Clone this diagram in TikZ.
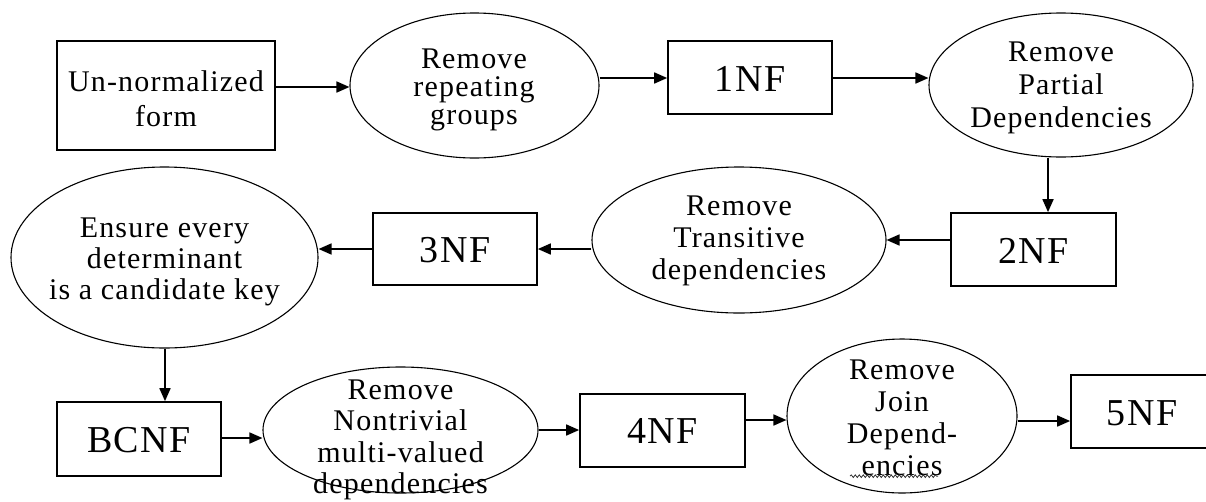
\documentclass[tikz,border=0pt]{standalone}
\usepackage{fontspec}
\setmainfont{Liberation Serif}[LetterSpace=4]
\usetikzlibrary{shapes.geometric,arrows.meta,decorations.pathmorphing}
\tikzset{
  nfbox/.style={draw, line width=1.7pt, inner sep=0pt},
  oval/.style={draw, ellipse, line width=1.1pt, inner sep=0pt},
  lbl/.style={align=center, font=\fontsize{30}{32}\selectfont, inner sep=0pt},
  nflbl/.style={font=\fontsize{38}{40}\selectfont, inner sep=0pt},
  flow/.style={line width=1.7pt, -{Triangle[length=13pt,width=11pt]}},
}
\begin{document}
\begin{tikzpicture}[x=1pt,y=-1pt]
\useasboundingbox (0,0) rectangle (1206,501);
\clip (0,0) rectangle (1206,501);
\fill[white] (0,0) rectangle (1206,501);

% shapes
\node[nfbox, minimum width=218pt, minimum height=109pt] (unf) at (166,95.5) {};
\node[oval, minimum width=249pt, minimum height=145pt] (e1) at (474.5,85.5) {};
\node[nfbox, minimum width=164pt, minimum height=73pt] (nf1) at (750,77.5) {};
\node[oval, minimum width=264pt, minimum height=144pt] (e2) at (1061,85) {};
\node[nfbox, minimum width=165pt, minimum height=73pt] (nf2) at (1033.5,249.5) {};
\node[oval, minimum width=294pt, minimum height=146pt] (e3) at (739,240) {};
\node[nfbox, minimum width=164pt, minimum height=72pt] (nf3) at (455,249) {};
\node[oval, minimum width=307pt, minimum height=181pt] (e4) at (164.5,257.5) {};
\node[nfbox, minimum width=164pt, minimum height=74pt] (bcnf) at (139,439) {};
\node[oval, minimum width=275pt, minimum height=126pt] (e5) at (400.5,430) {};
\node[nfbox, minimum width=165pt, minimum height=73pt] (nf4) at (662.5,430.5) {};
\node[oval, minimum width=230pt, minimum height=154pt] (e6) at (902,416) {};
\node[nfbox, minimum width=142pt, minimum height=73pt] (nf5) at (1142,411.5) {};

% texts
\node[lbl, font=\fontsize{30}{35}\selectfont] (tunf) at (166,99) {Un-normalized\\form};
\node[lbl, font=\fontsize{30}{28}\selectfont] (te1) at (474,90) {Remove\\repeating\\groups};
\node[nflbl] (tnf1) at (750,79) {1NF};
\node[lbl, font=\fontsize{30}{33}\selectfont] (te2) at (1061,88) {Remove\\Partial\\Dependencies};
\node[nflbl] (tnf2) at (1033.5,251) {2NF};
\node[lbl] (te3) at (739,241) {Remove\\Transitive\\dependencies};
\node[nflbl] (tnf3) at (455,250) {3NF};
\node[lbl, font=\fontsize{30}{31}\selectfont] (te4) at (164.5,262) {Ensure every\\determinant\\is a candidate key};
\node[nflbl] (tbcnf) at (139,440) {BCNF};
\node[lbl, font=\fontsize{30}{31.5}\selectfont] (te5) at (400.5,440) {Remove\\Nontrivial\\multi-valued\\dependencies};
\node[nflbl] (tnf4) at (662.5,431) {4NF};
\node[lbl] (te6) at (902,418) {Remove\\Join\\Depend-\\encies};
\node[nflbl] (tnf5) at (1142,413) {5NF};

% spell-check squiggle under "encies"
\draw[decorate, decoration={snake, amplitude=1.3pt, segment length=4pt}, line width=0.8pt, black!80]
  (te6.south -| 850,0) -- (te6.south -| 938,0);

% connectors
\draw[flow] (unf.east |- 0,87) -- (e1.west |- 0,87);
\draw[flow] (e1.east |- 0,78) -- (nf1.west |- 0,78);
\draw[flow] (nf1.east |- 0,78) -- (e2.west |- 0,78);
\draw[flow] (e2.south -| 1048,0) -- (nf2.north -| 1048,0);
\draw[flow] (nf2.west |- 0,240) -- (e3.east |- 0,240);
\draw[flow] (e3.west |- 0,249) -- (nf3.east |- 0,249);
\draw[flow] (nf3.west |- 0,249) -- (e4.east |- 0,249);
\draw[flow] (e4.south -| 165,0) -- (bcnf.north -| 165,0);
\draw[flow] (bcnf.east |- 0,438) -- (e5.west |- 0,438);
\draw[flow] (e5.east |- 0,430) -- (nf4.west |- 0,430);
\draw[flow] (nf4.east |- 0,420) -- (e6.west |- 0,420);
\draw[flow] (e6.east |- 0,421) -- (nf5.west |- 0,421);
\end{tikzpicture}
\end{document}
